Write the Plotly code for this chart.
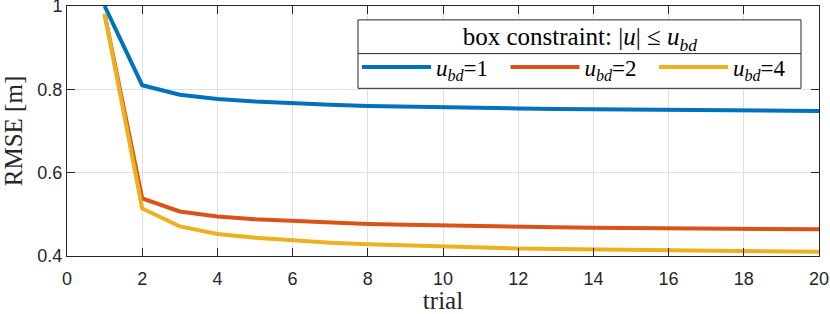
import plotly.graph_objects as go

trials = list(range(1, 21))
rmse_ubd1 = [1.000, 0.810, 0.787, 0.777, 0.771, 0.766, 0.763, 0.760, 0.758, 0.757,
             0.755, 0.754, 0.753, 0.752, 0.751, 0.750, 0.750, 0.749, 0.748, 0.748]
rmse_ubd2 = [0.981, 0.538, 0.507, 0.495, 0.488, 0.484, 0.480, 0.477, 0.475, 0.473,
             0.471, 0.470, 0.469, 0.468, 0.467, 0.466, 0.466, 0.465, 0.465, 0.464]
rmse_ubd4 = [0.981, 0.514, 0.471, 0.453, 0.444, 0.437, 0.432, 0.428, 0.425, 0.422,
             0.420, 0.418, 0.417, 0.416, 0.415, 0.414, 0.413, 0.412, 0.411, 0.410]
series_names = ["<i>u</i><sub><i>bd</i></sub>=1", "<i>u</i><sub><i>bd</i></sub>=2",
                "<i>u</i><sub><i>bd</i></sub>=4"]
colors = ["#0072BD", "#D95319", "#EDB120"]
x_ticks = [0, 2, 4, 6, 8, 10, 12, 14, 16, 18, 20]
y_ticks = [0.4, 0.6, 0.8, 1.0]
y_tick_labels = ["0.4", "0.6", "0.8", "1"]

SERIF = "Liberation Serif, DejaVu Serif, serif"
SANS = "Liberation Sans, Arial, sans-serif"

W, H = 830, 314
L, R, T, B = 67, 11, 6, 56
PW, PH = W - L - R, H - T - B


def px(x):
    return (x - L) / PW


def py(y):
    return (H - B - y) / PH


fig = go.Figure()
for vals, name, c in zip([rmse_ubd1, rmse_ubd2, rmse_ubd4], series_names, colors):
    fig.add_trace(go.Scatter(x=trials, y=vals, mode="lines", name=name,
                             line=dict(color=c, width=4)))

axis_common = dict(showline=True, linecolor="#262626", linewidth=1, mirror="ticks",
                   ticks="inside", ticklen=8, tickcolor="#262626",
                   ticklabeloverflow="allow",
                   showgrid=True, gridcolor="#e0e0e0", gridwidth=1, zeroline=False,
                   tickfont=dict(family=SANS, size=18, color="#262626"))

fig.update_xaxes(range=[0, 20], tickvals=x_ticks, ticklabelstandoff=6, automargin="bottom",
                 title=dict(text="trial", font=dict(family=SERIF, size=25, color="#262626"), standoff=2),
                 **axis_common)
fig.update_yaxes(range=[0.4, 1.0], tickvals=y_ticks, ticktext=y_tick_labels, automargin="left",
                 title=dict(text="RMSE [m]", font=dict(family=SERIF, size=25, color="#262626"), standoff=8),
                 **axis_common)

BX0, BX1, BY0, BY1, BDIV = 358, 801, 20, 89, 54

fig.update_layout(
    width=W, height=H,
    margin=dict(l=L, r=R, t=T, b=B),
    plot_bgcolor="white", paper_bgcolor="white",
    showlegend=True,
    legend=dict(
        orientation="h", x=px(357), xanchor="left", y=py(BY0 - 7), yanchor="top",
        bgcolor="rgba(0,0,0,0)", borderwidth=0,
        font=dict(family=SERIF, size=23, color="black"),
        title=dict(text="box constraint: |<i>u</i>| ≤ <i>u</i><sub><i>bd</i></sub>",
                   side="top center", font=dict(family=SERIF, size=25, color="black")),
        itemwidth=69, entrywidth=64.5, entrywidthmode="pixels",
        tracegroupgap=0,
    ),
    shapes=[
        dict(type="rect", xref="paper", yref="paper", x0=px(BX0), x1=px(BX1),
             y0=py(BY1), y1=py(BY0), fillcolor="white",
             line=dict(color="#262626", width=1), layer="above"),
        dict(type="line", xref="paper", yref="paper", x0=px(BX0), x1=px(BX1),
             y0=py(BDIV), y1=py(BDIV), line=dict(color="#262626", width=1), layer="above"),
    ],
)

fig.write_html("out.html", config={"displayModeBar": False},
               post_script="document.body.style.margin='0';")
